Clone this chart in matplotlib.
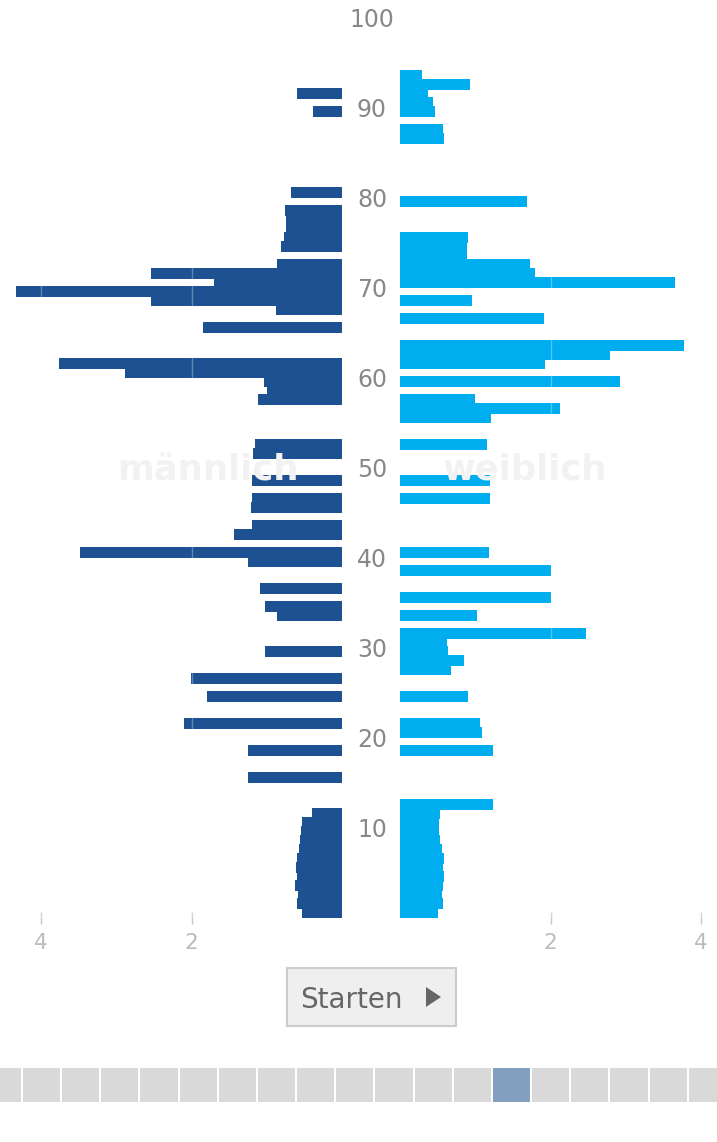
import matplotlib
matplotlib.use("Agg")
import matplotlib.pyplot as plt
from matplotlib import transforms
from matplotlib.patches import Rectangle, Polygon

# ---------------- data ----------------
MALE_AGES = [91, 89, 80, 78, 77, 76, 75, 74, 72, 71, 70, 69, 68, 67, 65,
             61, 60, 59, 58, 57, 52, 51, 48, 46, 45, 43, 42, 40, 39, 36,
             34, 33, 29, 26, 24, 21, 18, 15, 11, 10, 9, 8, 7, 6, 5, 4, 3,
             2, 1, 0]
MALE_VALUES = [0.595, 0.39, 0.68, 0.76, 0.74, 0.75, 0.77, 0.81, 0.87, 2.54,
               1.70, 4.33, 2.54, 0.88, 1.85, 3.76, 2.89, 1.03, 1.00, 1.11,
               1.16, 1.18, 1.20, 1.20, 1.21, 1.20, 1.43, 3.48, 1.25, 1.09,
               1.02, 0.86, 1.02, 2.01, 1.79, 2.10, 1.25, 1.25, 0.40, 0.53,
               0.55, 0.56, 0.57, 0.595, 0.61, 0.595, 0.625, 0.585, 0.595,
               0.535]

FEMALE_AGES = [93, 92, 91, 90, 89, 87, 86, 79, 75, 74, 73, 72, 71, 70, 68,
               66, 63, 62, 61, 59, 57, 56, 55, 52, 48, 46, 40, 38, 35, 33,
               31, 30, 29, 28, 27, 24, 21, 20, 18, 12, 11, 10, 9, 8, 7, 6,
               5, 4, 3, 2, 1, 0]
FEMALE_VALUES = [0.29, 0.93, 0.37, 0.445, 0.46, 0.575, 0.59, 1.69, 0.91,
                 0.89, 0.89, 1.73, 1.79, 3.65, 0.96, 1.91, 3.77, 2.79, 1.93,
                 2.92, 1.00, 2.13, 1.21, 1.16, 1.20, 1.20, 1.18, 2.00, 2.00,
                 1.02, 2.47, 0.63, 0.64, 0.85, 0.675, 0.905, 1.06, 1.09,
                 1.24, 1.24, 0.53, 0.52, 0.52, 0.53, 0.555, 0.58, 0.565,
                 0.59, 0.565, 0.555, 0.565, 0.50]

AGE_TICKS = [10, 20, 30, 40, 50, 60, 70, 80, 90, 100]
X_TICKS = [2, 4]
LABEL_MALE = "männlich"
LABEL_FEMALE = "weiblich"
BUTTON_TEXT = "Starten"
SLIDER_COUNT = 19
SLIDER_ACTIVE = 13

# ---------------- style ----------------
MALE_COLOR = "#1e5191"
FEMALE_COLOR = "#00aeef"
W, H = 717, 1142
DPI = 100
plt.rcParams["font.family"] = ["DejaVu Sans"]

fig = plt.figure(figsize=(W / DPI, H / DPI), dpi=DPI)
fig.patch.set_facecolor("white")

PX_PER_UNIT = 75.25
AX_BOTTOM_PX = 918  # pixel row (from top) of age 0
AX_TOP_AGE = AX_BOTTOM_PX / 9.0
bottom = (H - AX_BOTTOM_PX) / H
height = AX_BOTTOM_PX / H

ax_m = fig.add_axes([0, bottom, 342 / W, height])
ax_f = fig.add_axes([400 / W, bottom, 317 / W, height])

bar_h = 11 / 9.0
# draw from old to young so younger bars lie on top
m_pairs = sorted(zip(MALE_AGES, MALE_VALUES), reverse=True)
f_pairs = sorted(zip(FEMALE_AGES, FEMALE_VALUES), reverse=True)
for a, v in m_pairs:
    ax_m.barh(a, v, height=bar_h, align="edge", color=MALE_COLOR, lw=0, zorder=2)
for a, v in f_pairs:
    ax_f.barh(a, v, height=bar_h, align="edge", color=FEMALE_COLOR, lw=0, zorder=2)

ax_m.set_xlim(342 / PX_PER_UNIT, 0)
ax_f.set_xlim(0, 317 / PX_PER_UNIT)

for ax in (ax_m, ax_f):
    ax.set_ylim(0, AX_TOP_AGE)
    ax.set_facecolor("none")
    for s in ax.spines.values():
        s.set_visible(False)
    ax.set_yticks([])
    ax.set_xticks(X_TICKS)
    ax.set_xticklabels([str(t) for t in X_TICKS])
    ax.tick_params(axis="x", direction="inout", length=8.6, width=1.0,
                   color="#c8c8c8", labelcolor="#bbbbbb", labelsize=15.5,
                   pad=6.6)
    for t in X_TICKS:
        ax.axvline(t, color="white", alpha=0.3, lw=1.0, zorder=3)

# age labels in the gap
trans = transforms.blended_transform_factory(fig.transFigure, ax_f.transData)
trans = transforms.offset_copy(trans, fig=fig, y=-6.2, units="points")
for a in AGE_TICKS:
    fig.text(372 / W, a, str(a), transform=trans, ha="center", va="baseline",
             fontsize=17, color="#888888")

# watermarks
fig.text(208 / W, (H - 480) / H, LABEL_MALE, ha="center", va="baseline",
         fontsize=25.5, fontweight="bold", color="#f2f2f2", zorder=5)
fig.text(525 / W, (H - 480) / H, LABEL_FEMALE, ha="center", va="baseline",
         fontsize=25.5, fontweight="bold", color="#f2f2f2", zorder=5)

# button
px = lambda x: x / W
py = lambda y: (H - y) / H
fig.add_artist(Rectangle((px(287), py(1026)), px(456) - px(287), py(968) - py(1026),
                         transform=fig.transFigure, facecolor="#efefef",
                         edgecolor="#cccccc", lw=1.5))
fig.text(px(300), py(997), BUTTON_TEXT, ha="left", va="center_baseline",
         fontsize=20, color="#666666")
fig.add_artist(Polygon([(px(426), py(987)), (px(426), py(1007)), (px(441), py(997))],
                       closed=True, transform=fig.transFigure,
                       facecolor="#666666", edgecolor="none"))

# slider strip
seg_px = 39.16
ax_s = fig.add_axes([0, (H - 1102) / H, 1, 34 / H])
x0 = 1 - 22 / seg_px
ax_s.set_xlim(x0, x0 + W / seg_px)
ax_s.set_ylim(0, 1)
gap = 2 / seg_px
for i in range(SLIDER_COUNT):
    c = "#829fbf" if i == SLIDER_ACTIVE else "#d9d9d9"
    ax_s.bar(i + gap / 2, 1, width=1 - gap, align="edge", color=c, lw=0)
ax_s.axis("off")

fig.savefig("out.png", dpi=DPI, facecolor="white")
